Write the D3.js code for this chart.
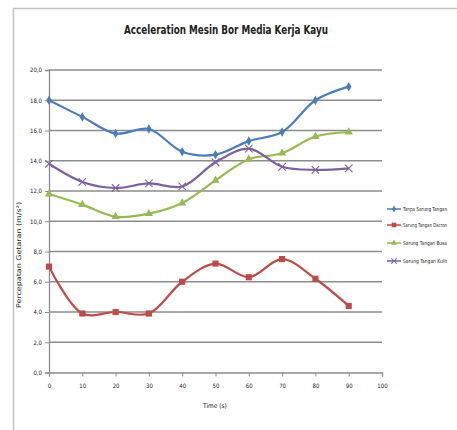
<!DOCTYPE html>
<html>
<head>
<meta charset="utf-8">
<script src="https://cdn.jsdelivr.net/npm/d3@7"></script>
<style>
  body { margin: 0; background: #fff; }
  text { font-family: "Liberation Sans Narrow", "DejaVu Sans Condensed", "Open Sans", sans-serif; fill: #222; }
</style>
</head>
<body>
<svg id="chart"></svg>
<script>
// data
let times = [0, 10, 20, 30, 40, 50, 60, 70, 80, 90]
let tanpaSarung = [18.0, 16.9, 15.8, 16.1, 14.6, 14.4, 15.3, 15.9, 18.0, 18.9]
let sarungDacron = [7.0, 3.9, 4.0, 3.9, 6.0, 7.2, 6.3, 7.5, 6.2, 4.4]
let sarungBusa = [11.8, 11.1, 10.3, 10.5, 11.2, 12.7, 14.1, 14.5, 15.6, 15.9]
let sarungKulit = [13.8, 12.6, 12.2, 12.5, 12.3, 13.9, 14.8, 13.6, 13.4, 13.5]
let seriesNames = ["Tanpa Sarung Tangan", "Sarung Tangan Dacron", "Sarung Tangan Busa", "Sarung Tangan Kulit"]
let xTicks = [0, 10, 20, 30, 40, 50, 60, 70, 80, 90, 100]
let yTicks = [0, 2, 4, 6, 8, 10, 12, 14, 16, 18, 20]

let width = 457, height = 430
let margin = { top: 70, left: 49, right: 75, bottom: 57 }

let svg = d3.select("#chart").attr("width", width).attr("height", height)

// chart frame (runs off the right and bottom edge)
svg.append("path")
  .attr("d", `M${width},8.5 H13.5 V${height}`)
  .attr("fill", "none")
  .attr("stroke", "#c4c4c4")
  .attr("stroke-width", 1.5)

svg.append("text")
  .attr("x", 226).attr("y", 34)
  .attr("text-anchor", "middle")
  .attr("font-size", 12.5).attr("font-weight", "bold")
  .attr("textLength", 204).attr("lengthAdjust", "spacingAndGlyphs")
  .text("Acceleration Mesin Bor Media Kerja Kayu")

let xScale = d3.scaleLinear().domain([0, 100]).range([margin.left, 382])
let yScale = d3.scaleLinear().domain([0, 20]).range([372.5, margin.top])

// gridlines
svg.append("g").selectAll("line")
  .data(yTicks.filter(d => d > 0))
  .enter().append("line")
  .attr("x1", xScale(0)).attr("x2", xScale(100))
  .attr("y1", d => yScale(d)).attr("y2", d => yScale(d))
  .attr("stroke", "#8c8c8c").attr("stroke-width", 1.3)

let fmt = d => d3.format(".1f")(d).replace(".", ",")

let axisY = d3.axisLeft(yScale).tickValues(yTicks).tickFormat(fmt).tickSize(4).tickPadding(3)
let gy = svg.append("g").attr("transform", `translate(${xScale(0)},0)`).call(axisY)
let axisX = d3.axisBottom(xScale).tickValues(xTicks).tickSize(4).tickPadding(7)
let gx = svg.append("g").attr("transform", `translate(0,${yScale(0)})`).call(axisX)

for (let g of [gx, gy]) {
  g.select(".domain").attr("stroke", "#8c8c8c").attr("stroke-width", 1.3)
  g.selectAll(".tick line").attr("stroke", "#8c8c8c")
  g.selectAll(".tick text").attr("font-size", 6).attr("fill", "#333")
    .style("font-family", "'Liberation Sans Narrow', 'DejaVu Sans Condensed', sans-serif")
}

svg.append("text")
  .attr("transform", "translate(21,255) rotate(-90)")
  .attr("text-anchor", "middle")
  .attr("font-size", 6.5)
  .attr("textLength", 106).attr("lengthAdjust", "spacingAndGlyphs")
  .text("Percepatan Getaran (m/s²)")

svg.append("text")
  .attr("x", 215).attr("y", 408)
  .attr("text-anchor", "middle")
  .attr("font-size", 6.5)
  .text("Time (s)")

let series = [
  { name: seriesNames[0], values: tanpaSarung, color: "#4a7ebb", symbol: d3.symbolDiamond, size: 26, stroke: false },
  { name: seriesNames[1], values: sarungDacron, color: "#be4b48", symbol: d3.symbolSquare, size: 38, stroke: false },
  { name: seriesNames[2], values: sarungBusa, color: "#98b954", symbol: d3.symbolTriangle, size: 30, stroke: false },
  { name: seriesNames[3], values: sarungKulit, color: "#7d60a0", symbol: d3.symbolTimes, size: 38, stroke: true }
]

let line = d3.line()
  .x((d, i) => xScale(times[i]))
  .y(d => yScale(d))
  .curve(d3.curveCatmullRom.alpha(0.5))

function drawMarker(g, s, x, y) {
  let p = g.append("path")
    .attr("d", d3.symbol().type(s.symbol).size(s.size)())
    .attr("transform", `translate(${x},${y})`)
  if (s.stroke) p.attr("fill", "none").attr("stroke", s.color).attr("stroke-width", 1.1)
  else p.attr("fill", s.color)
}

series.forEach(s => {
  let g = svg.append("g")
  g.append("path")
    .attr("d", line(s.values))
    .attr("fill", "none")
    .attr("stroke", s.color)
    .attr("stroke-width", 2.2)
  s.values.forEach((v, i) => drawMarker(g, s, xScale(times[i]), yScale(v)))
})

// legend
let legendY = [209, 225, 243, 261]
series.forEach((s, i) => {
  let g = svg.append("g").attr("transform", `translate(387,${legendY[i]})`)
  g.append("line").attr("x1", 0).attr("x2", 14)
    .attr("stroke", s.color).attr("stroke-width", 1.5)
  drawMarker(g, { ...s, size: s.size * 0.55 }, 7, 0)
  let t = g.append("text")
    .attr("x", 16).attr("y", 2)
    .attr("font-size", 5.4)
    .text(s.name)
  // keep the text well inside the window
  let room = 44
  if (t.node().getComputedTextLength() > room) {
    t.attr("textLength", room).attr("lengthAdjust", "spacingAndGlyphs")
  }
})
</script>
</body>
</html>
